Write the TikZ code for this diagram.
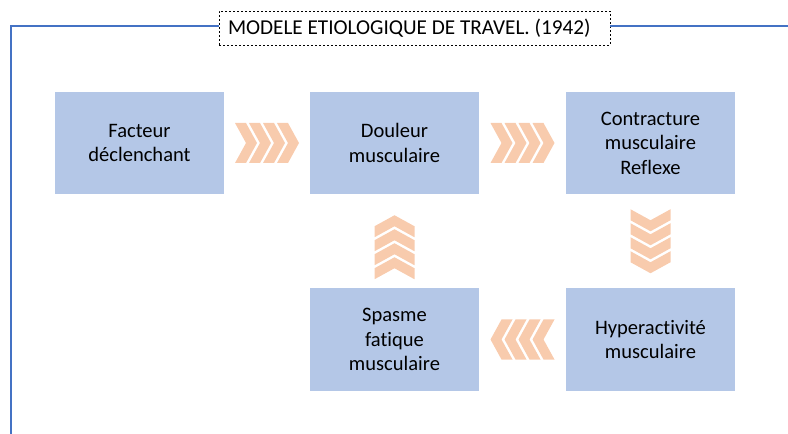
\documentclass[tikz,border=0pt]{standalone}
\usepackage{fontspec}
\setmainfont{Carlito}[Ligatures=NoCommon]
\usepackage{xcolor}
\usepackage{tikz}
\usetikzlibrary{positioning}
\definecolor{boxblue}{HTML}{B4C7E7}
\definecolor{framblue}{HTML}{4472C4}
\definecolor{peach}{HTML}{F8CBAD}
\tikzset{
	etape/.style={
			fill=boxblue, draw=none, align=center,
			minimum width=126.75pt, minimum height=76.5pt, inner sep=2pt,
			font=\fontsize{15.4}{18.4}\selectfont
		},
	chevrons/.pic={
			\foreach \i in {0,1,2,3}{
					\fill[peach, xshift=(\i*14-32)*0.75pt]
					(0,-20) -- (11,-20) -- (22,0) -- (11,20) -- (0,20) -- (11,0) -- cycle;
				}
		}
}

\begin{document}
\begin{tikzpicture}[x=0.75pt, y=-0.75pt]
        \useasboundingbox (0,0) rectangle (788,434);

        % Title and frame
        \node[draw, dashed, dash pattern=on 1.6pt off 1.4pt, thin, text width=279.75pt, align=flush left, minimum height=25.5pt, inner xsep=6.75pt, inner ysep=0pt, font=\fontsize{15.9}{18.4}\selectfont] (titre) at (414.5,28) {MODELE ETIOLOGIQUE DE TRAVEL. (1942)};
        \coordinate (coin) at (11,26);
        \coordinate (bas) at (11,434);
        \coordinate (droite) at (788,26);
        \draw[framblue, line width=0.9pt] (bas) -- (coin) -- (titre.west |- coin);
        \draw[framblue, line width=0.9pt] (titre.east |- droite) -- (droite);

        % Steps
        \node[etape] (facteur) at (139.5,143) {Facteur\\déclenchant};
        \node[etape] (douleur) at (394.5,143) {Douleur\\musculaire};
        \node[etape] (contracture) at (650.5,143) {Contracture\\musculaire\\Reflexe};
        \node[etape] (hyper) at (650.5,339.5) {Hyperactivité\\musculaire};
        \node[etape] (spasme) at (394.5,339.5) {Spasme\\fatique\\musculaire};

        % Chevron arrows
        \path (facteur.east) -- (douleur.west) pic[midway] {chevrons};
        \path (douleur.east) -- (contracture.west) pic[midway] {chevrons};
        \path (contracture.south) -- (hyper.north) pic[midway, rotate=-90] {chevrons};
        \path (hyper.west) -- (spasme.east) pic[midway, rotate=180] {chevrons};
        \path (spasme.north) -- (douleur.south) pic[midway, yshift=-4.5pt, rotate=90] {chevrons};
    \end{tikzpicture}
\end{document}
